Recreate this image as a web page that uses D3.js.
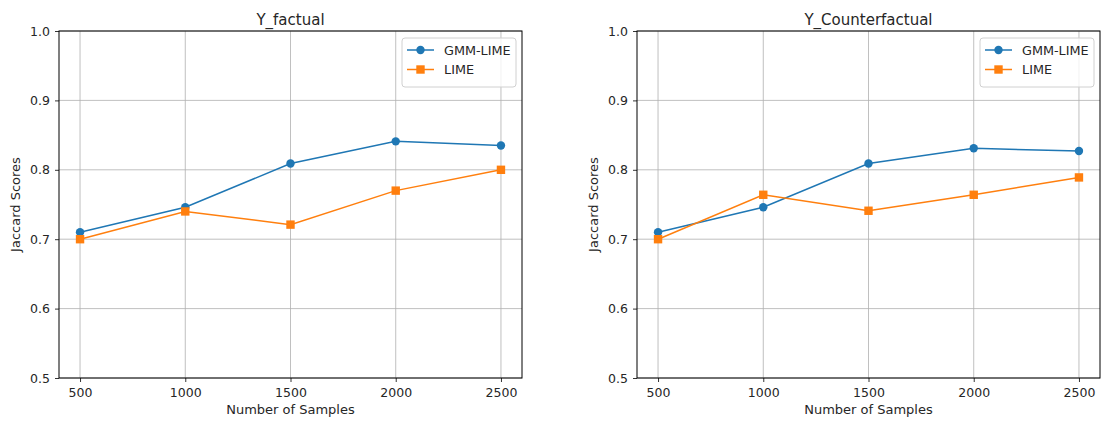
<!DOCTYPE html>
<html>
<head>
<meta charset="utf-8">
<script src="https://cdn.jsdelivr.net/npm/d3@7"></script>
<style>
  body { margin: 0; background: #fff; }
  text { font-family: "DejaVu Sans", sans-serif; fill: #262626; }
</style>
</head>
<body>
<div id="chart"></div>
<script>
var svgWidth = 1102;
var svgHeight = 421;

// data
var samples = [500, 1000, 1500, 2000, 2500];
var factualGmm = [0.710, 0.746, 0.809, 0.841, 0.835];
var factualLime = [0.700, 0.740, 0.721, 0.770, 0.800];
var counterGmm = [0.710, 0.746, 0.809, 0.831, 0.827];
var counterLime = [0.700, 0.764, 0.741, 0.764, 0.789];
var yTicks = [0.5, 0.6, 0.7, 0.8, 0.9, 1.0];
var panelTitles = ["Y_factual", "Y_Counterfactual"];
var seriesNames = ["GMM-LIME", "LIME"];

var blue = "#1f77b4";
var orange = "#ff7f0e";

var svg = d3.select("#chart")
  .append("svg")
  .attr("width", svgWidth)
  .attr("height", svgHeight);

var panels = [
  { left: 59, title: panelTitles[0], gmm: factualGmm, lime: factualLime },
  { left: 637, title: panelTitles[1], gmm: counterGmm, lime: counterLime }
];

var plotTop = 31, plotBottom = 378, plotW = 463;

panels.forEach(function(p) {
  var g = svg.append("g").attr("transform", `translate(${p.left}, ${plotTop})`);
  var h = plotBottom - plotTop;

  var x = d3.scaleLinear().domain([400, 2600]).range([0, plotW]);
  var y = d3.scaleLinear().domain([0.5, 1.0]).range([h, 0]);

  // grid
  g.selectAll(".vgrid").data(samples).enter().append("line")
    .attr("x1", d => x(d)).attr("x2", d => x(d))
    .attr("y1", 0).attr("y2", h)
    .attr("stroke", "#b0b0b0").attr("stroke-width", 0.8);
  g.selectAll(".hgrid").data(yTicks).enter().append("line")
    .attr("x1", 0).attr("x2", plotW)
    .attr("y1", d => y(d)).attr("y2", d => y(d))
    .attr("stroke", "#b0b0b0").attr("stroke-width", 0.8);

  // axes
  var xAxis = g.append("g")
    .attr("transform", `translate(0, ${h})`)
    .call(d3.axisBottom(x).tickValues(samples).tickFormat(d3.format("d")).tickSize(4).tickPadding(6));
  var yAxis = g.append("g")
    .call(d3.axisLeft(y).tickValues(yTicks).tickFormat(d3.format(".1f")).tickSize(4).tickPadding(5));
  [xAxis, yAxis].forEach(function(a) {
    a.select(".domain").remove();
    a.selectAll("line").attr("stroke", "#000").attr("stroke-width", 0.8);
    a.selectAll("text").attr("font-size", 12.5).attr("fill", "#262626")
      .style("font-family", "DejaVu Sans");
  });

  // frame
  g.append("rect")
    .attr("width", plotW).attr("height", h)
    .attr("fill", "none").attr("stroke", "#000").attr("stroke-width", 1);

  var line = d3.line().x((d, i) => x(samples[i])).y(d => y(d));

  g.append("path").datum(p.gmm).attr("d", line)
    .attr("fill", "none").attr("stroke", blue).attr("stroke-width", 1.5);
  g.selectAll(".gmmPt").data(p.gmm).enter().append("circle")
    .attr("cx", (d, i) => x(samples[i])).attr("cy", d => y(d))
    .attr("r", 4.2).attr("fill", blue);

  g.append("path").datum(p.lime).attr("d", line)
    .attr("fill", "none").attr("stroke", orange).attr("stroke-width", 1.5);
  g.selectAll(".limePt").data(p.lime).enter().append("rect")
    .attr("x", (d, i) => x(samples[i]) - 4.2).attr("y", d => y(d) - 4.2)
    .attr("width", 8.4).attr("height", 8.4).attr("fill", orange);

  // title and labels
  g.append("text").attr("x", plotW / 2).attr("y", -6)
    .attr("text-anchor", "middle").attr("font-size", 15).text(p.title);
  g.append("text").attr("x", plotW / 2).attr("y", h + 36)
    .attr("text-anchor", "middle").attr("font-size", 13).text("Number of Samples");
  g.append("text").attr("transform", "rotate(-90)")
    .attr("x", -h / 2).attr("y", -39)
    .attr("text-anchor", "middle").attr("font-size", 13).text("Jaccard Scores");

  // legend
  var lg = g.append("g").attr("transform", `translate(${plotW - 120}, 7)`);
  lg.append("rect").attr("width", 114).attr("height", 49).attr("rx", 3)
    .attr("fill", "#fff").attr("fill-opacity", 0.8)
    .attr("stroke", "#d0d0d0").attr("stroke-width", 1);
  [blue, orange].forEach(function(c, i) {
    var yy = 12 + i * 19.5;
    lg.append("line").attr("x1", 5).attr("x2", 32).attr("y1", yy).attr("y2", yy)
      .attr("stroke", c).attr("stroke-width", 1.5);
    if (i === 0) {
      lg.append("circle").attr("cx", 18.5).attr("cy", yy).attr("r", 4.2).attr("fill", c);
    } else {
      lg.append("rect").attr("x", 14.3).attr("y", yy - 4.2).attr("width", 8.4).attr("height", 8.4).attr("fill", c);
    }
    lg.append("text").attr("x", 42).attr("y", yy + 4.5).attr("font-size", 12.8).text(seriesNames[i]);
  });
});
</script>
</body>
</html>
